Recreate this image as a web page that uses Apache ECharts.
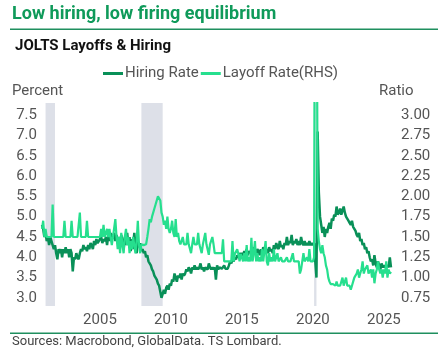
<!DOCTYPE html>
<html>
<head>
<meta charset="utf-8">
<script src="https://cdn.jsdelivr.net/npm/echarts@6/dist/echarts.min.js"></script>
<style>
html,body{margin:0;padding:0;background:#fff;}
#c{width:438px;height:360px;}
</style>
</head>
<body>
<div id="c"></div>
<script>
// Monthly data, Dec 2000 .. Jul 2025
const startYear = 2000, startMonth = 12;
const hiringRate = [
  4.8,
  4.7,4.5,4.6,4.4,4.5,4.3,4.5,4.4,4.3,4.2,4.3,4.1,          // 2001
  3.95,4.2,4.1,4.2,4.0,4.2,4.1,4.25,4.1,4.2,4.0,4.2,        // 2002
  4.1,3.65,4.0,3.95,4.1,4.0,3.95,4.1,4.2,4.15,4.3,4.2,      // 2003
  4.25,4.15,4.3,4.2,4.35,4.3,4.2,4.4,4.3,4.45,4.35,4.4,     // 2004
  4.4,4.5,4.35,4.45,4.4,4.5,4.3,4.55,4.4,4.6,4.45,4.5,      // 2005
  4.6,4.4,4.55,4.35,4.5,4.25,4.55,4.4,4.2,4.5,4.3,4.6,      // 2006
  4.3,4.5,4.15,4.45,4.2,4.6,4.3,4.1,4.4,4.25,4.35,4.15,     // 2007
  4.2,4.1,4.15,4.0,4.05,3.9,3.85,3.8,3.7,3.65,3.55,3.5,     // 2008
  3.45,3.35,3.3,3.15,3.0,3.1,3.2,3.1,3.25,3.3,3.2,3.35,     // 2009
  3.3,3.45,3.4,3.6,3.5,3.4,3.55,3.5,3.6,3.45,3.6,3.55,      // 2010
  3.6,3.7,3.65,3.75,3.7,3.6,3.75,3.7,3.8,3.7,3.75,3.7,      // 2011
  3.75,3.85,3.7,3.75,3.65,3.75,3.75,3.7,3.85,3.75,3.7,3.75, // 2012
  3.7,3.75,3.45,3.8,3.7,3.75,3.72,3.72,3.72,3.8,3.72,3.75,  // 2013
  3.72,3.8,3.9,3.85,3.95,3.9,4.0,3.95,4.05,4.0,4.1,4.05,    // 2014
  4.1,4.05,4.15,4.1,4.2,4.05,4.15,4.1,4.2,4.1,4.25,4.15,    // 2015
  4.1,4.2,4.15,4.05,4.2,4.1,4.25,4.15,4.1,4.2,4.1,4.25,     // 2016
  4.15,4.2,4.1,4.3,4.2,4.35,4.25,4.2,4.4,4.25,4.3,4.2,      // 2017
  4.35,4.3,4.5,4.3,4.4,4.35,4.55,4.3,4.4,4.35,4.45,4.3,     // 2018
  4.4,4.3,4.5,4.35,4.3,4.4,4.3,4.35,4.3,4.4,4.3,4.35,       // 2019
  4.3,4.35,3.9,3.5,7.1,5.6,5.0,4.8,4.6,4.75,4.5,4.7,        // 2020
  4.6,4.75,4.85,4.7,4.95,4.9,5.05,5.0,5.25,5.05,5.1,5.2,    // 2021
  5.05,5.15,5.25,5.1,5.0,4.95,4.9,4.85,4.8,4.9,4.75,4.7,    // 2022
  4.65,4.55,4.5,4.6,4.4,4.45,4.3,4.35,4.2,4.25,4.1,4.15,    // 2023
  4.0,3.9,3.95,3.8,4.05,3.85,3.75,3.9,3.8,3.7,3.85,3.75,    // 2024
  3.8,3.75,3.72,3.8,3.75,4.0,3.75                           // 2025
];
const layoffRate = [
  1.6,
  1.7,1.5,1.6,1.5,1.5,1.5,1.5,1.5,1.9,1.5,1.5,1.5,          // 2001
  1.5,1.5,1.5,1.5,1.5,1.5,1.7,1.5,1.5,1.5,1.5,1.5,          // 2002
  1.7,1.5,1.5,1.5,1.5,1.5,1.5,1.8,1.5,1.5,1.5,1.5,          // 2003
  1.5,1.7,1.5,1.5,1.5,1.5,1.5,1.5,1.5,1.5,1.5,1.5,          // 2004
  1.5,1.6,1.5,1.65,1.5,1.5,1.6,1.5,1.6,1.5,1.4,1.5,         // 2005
  1.5,1.72,1.5,1.35,1.5,1.3,1.55,1.4,1.3,1.5,1.6,1.4,       // 2006
  1.5,1.3,1.45,1.35,1.5,1.4,1.3,1.45,1.7,1.4,1.3,1.41,      // 2007
  1.4,1.4,1.4,1.41,1.5,1.6,1.72,1.68,1.75,1.8,1.85,1.9,     // 2008
  1.9,2.0,2.0,1.95,1.8,1.75,1.65,1.7,1.6,1.75,1.6,1.55,     // 2009
  1.6,1.7,1.55,1.5,1.72,1.5,1.55,1.45,1.41,1.41,1.5,1.41,   // 2010
  1.41,1.41,1.55,1.41,1.41,1.3,1.41,1.5,1.41,1.41,1.41,1.55,// 2011
  1.41,1.41,1.3,1.41,1.41,1.55,1.41,1.41,1.28,1.41,1.41,1.5,// 2012
  1.41,1.3,1.3,1.3,1.3,1.3,1.3,1.3,1.47,1.2,1.2,1.2,        // 2013
  1.2,1.2,1.2,1.2,1.45,1.2,1.29,1.29,1.35,1.29,1.2,1.29,    // 2014
  1.29,1.2,1.3,1.2,1.4,1.2,1.25,1.2,1.49,1.2,1.3,1.45,      // 2015
  1.2,1.3,1.2,1.25,1.2,1.35,1.2,1.2,1.45,1.2,1.15,1.3,      // 2016
  1.2,1.25,1.2,1.35,1.2,1.2,1.3,1.2,1.2,1.25,1.2,1.2,       // 2017
  1.2,1.2,1.25,1.2,1.2,1.2,1.2,1.3,1.2,1.2,1.2,1.2,         // 2018
  1.2,1.05,1.1,1.2,1.3,1.2,1.2,1.25,1.2,1.35,1.2,1.2,       // 2019
  1.2,1.25,7.5,5.9,1.6,1.45,1.35,1.3,1.4,1.3,1.25,1.15,     // 2020
  1.1,1.0,0.95,0.92,0.9,0.92,0.9,0.9,0.95,0.9,0.88,0.9,     // 2021
  0.9,1.0,0.9,0.9,1.0,0.9,0.9,0.9,0.85,0.9,0.95,1.0,        // 2022
  1.0,1.05,1.1,1.0,1.05,1.1,1.2,1.05,1.1,1.1,1.15,1.05,     // 2023
  1.05,1.1,1.0,1.1,0.93,1.05,1.1,1.2,1.1,1.05,1.1,1.0,      // 2024
  1.1,1.05,1.2,1.0,1.1,1.05,1.07                            // 2025
];
const xTicks = [2005, 2010, 2015, 2020, 2025];
const leftTicks = [3.0, 3.5, 4.0, 4.5, 5.0, 5.5, 6.0, 6.5, 7.0, 7.5];
const rightTicks = [0.75, 1.00, 1.25, 1.50, 1.75, 2.00, 2.25, 2.50, 2.75, 3.00];
// recessions [start, end] as (year, month)
const recessions = [[2001,3,2001,11],[2007,12,2009,6],[2020,2,2020,4]];

function tYear(i){ return startYear + (startMonth - 1 + i) / 12; }
function ym(y,m){ return y + (m - 1) / 12; }
const hireData = hiringRate.map((v,i)=>[tYear(i), v]);
const layData = layoffRate.map((v,i)=>[tYear(i), v]);

const FONT = 'Roboto';
const DARK = '#099058', LIGHT = '#26df8e';
const chart = echarts.init(document.getElementById('c'), null, {renderer:'canvas'});
chart.setOption({
  backgroundColor:'#fff',
  animation:false,
  textStyle:{fontFamily:FONT},
  graphic:[
    {type:'text', left:12, top:5, style:{text:'Low hiring, low firing equilibrium', font:'bold 18px Roboto', fill:'#0f9a5a'}},
    {type:'rect', shape:{x:10,y:28.5,width:428,height:1.5}, style:{fill:'#1f8f5f'}},
    {type:'text', left:15, top:39, style:{text:'JOLTS Layoffs & Hiring', font:'bold 15px Roboto', fill:'#111'}},
    {type:'text', left:12, top:84, style:{text:'Percent', font:'15px Roboto', fill:'#555'}},
    {type:'text', left:379, top:84, style:{text:'Ratio', font:'15px Roboto', fill:'#555'}},
    {type:'rect', shape:{x:10,y:332.5,width:428,height:1.5}, style:{fill:'#1f8f5f'}},
    {type:'text', left:12, top:335, style:{text:'Sources: Macrobond, GlobalData. TS Lombard.', font:'13px Roboto', fill:'#444'}}
  ],
  legend:{
    left:98, top:61, itemWidth:20, itemHeight:3, itemGap:2, icon:'rect',
    textStyle:{fontFamily:FONT, fontSize:15, color:'#555', padding:[0,0,0,-3]},
    data:[{name:'Hiring Rate', itemStyle:{color:DARK}},{name:'Layoff Rate(RHS)', itemStyle:{color:LIGHT}}]
  },
  grid:{left:42, right:47, top:103, bottom:54, containLabel:false},
  xAxis:{
    type:'value', min:ym(startYear,startMonth), max:tYear(hiringRate.length-1),
    axisLine:{show:false}, axisTick:{show:false}, splitLine:{show:false},
    axisLabel:{customValues:xTicks, formatter:v=>String(Math.round(v)), fontSize:15, color:'#555', margin:7, fontFamily:FONT}
  },
  yAxis:[
    {type:'value', min:2.8, max:7.8, position:'left',
     axisLine:{show:false}, axisTick:{show:false}, splitLine:{show:false},
     axisLabel:{customValues:leftTicks, formatter:v=>v.toFixed(1), fontSize:15, color:'#555', margin:5, fontFamily:FONT}},
    {type:'value', min:0.65, max:3.15, position:'right',
     axisLine:{show:false}, axisTick:{show:false}, splitLine:{show:false},
     axisLabel:{customValues:rightTicks, formatter:v=>v.toFixed(2), fontSize:15, color:'#555', margin:10, fontFamily:FONT}}
  ],
  series:[
    {name:'Hiring Rate', type:'line', yAxisIndex:0, data:hireData, symbol:'none',
     lineStyle:{color:DARK, width:2.5}, itemStyle:{color:DARK},
     markArea:{silent:true, itemStyle:{color:'#dde0e8'},
       data:recessions.map(r=>[{xAxis:ym(r[0],r[1])},{xAxis:ym(r[2],r[3])}])}},
    {name:'Layoff Rate(RHS)', type:'line', yAxisIndex:1, data:layData, symbol:'none',
     lineStyle:{color:LIGHT, width:2.2}, itemStyle:{color:LIGHT}}
  ]
});
</script>
</body>
</html>
